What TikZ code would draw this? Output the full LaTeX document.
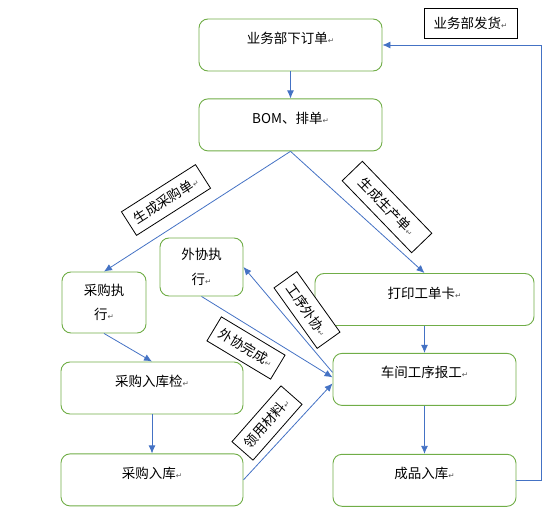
\documentclass[tikz,border=0pt]{standalone}
\usepackage{fontspec}
\setmainfont{Noto Sans CJK SC}
\newfontfamily\markfont{DejaVu Sans}
\usepackage{tikz}
\usetikzlibrary{arrows.meta, positioning}
\definecolor{boxgreen}{HTML}{70AD47}
\definecolor{flowblue}{HTML}{4472C4}
\newcommand{\retmark}{{\markfont\color{gray!70!black}\fontsize{7.5}{7.5}\selectfont ↵}}

\begin{document}
\begin{tikzpicture}[x=1pt, y=-1pt,
    font=\fontsize{13.5pt}{24.5pt}\selectfont,
    stepbox/.style={draw=boxgreen, line width=0.9pt, rounded corners=9pt,
        minimum width=183pt, minimum height=52pt,
        text height=11pt, text depth=14pt},
    twoline/.style={draw=boxgreen, line width=0.9pt, rounded corners=9pt,
        minimum width=84pt, minimum height=61pt, align=center, inner sep=0pt},
    tagbox/.style={draw=black, line width=0.8pt, fill=white,
        minimum height=28pt, inner xsep=7pt, inner ysep=0pt},
    flow/.style={draw=flowblue, line width=0.8pt,
        -{Latex[length=8pt, width=7pt]}}]
    \useasboundingbox (0,0) rectangle (557,516);
    % Add the steps
        \node[stepbox] (order) at (290.5,45) {业务部下订单\retmark};
        \node[stepbox,
            below=27pt of order
            ] (bom) {BOM、排单\retmark};
        \node[stepbox,
            minimum width=219pt
            ] (print) at (424.5,299.5) {打印工单卡\retmark};
        \node[stepbox,
            below=27pt of print
            ] (shop) {车间工序报工\retmark};
        \node[stepbox,
            below=48pt of shop
            ] (store) {成品入库\retmark};
        \node[stepbox,
            minimum width=182pt
            ] (check) at (152,388) {采购入库检\retmark};
        \node[stepbox,
            minimum width=182pt,
            below=39pt of check
            ] (buyin) {采购入库\retmark};
        \node[twoline] (buy) at (104,302.5) {采购执\\行\retmark};
        \node[twoline,
            minimum width=83pt,
            minimum height=58pt
            ] (outs) at (201.5,267) {外协执\\行\retmark};
        \node[draw=black, line width=0.8pt,
            minimum width=93pt,
            minimum height=30pt
            ] (ship) at (470.5,23) {业务部发货\retmark};

    % Add the labels
        \node[tagbox, rotate=32.5] (tbuy) at (166,200) {生成采购单\retmark};
        \node[tagbox, rotate=-46, minimum width=100pt] (tmake) at (387,207) {生成生产单\retmark};
        \node[tagbox, rotate=-54.5] (tout) at (307,310) {工序外协\retmark};
        \node[tagbox, rotate=-31] (tdone) at (246,348) {外协完成\retmark};
        \node[tagbox, rotate=48.7] (tmat) at (267,423) {领用材料\retmark};

       \path[every edge/.style={flow}]
            (order) edge (bom)
            (bom.south) edge (buy.north)
            (bom.south) edge (print.north)
            (print) edge (shop)
            (shop) edge (store)
            (buy.south) edge (check.north)
            (check) edge (buyin)
            (outs.south) edge ([yshift=2pt]shop.west)
            ([yshift=7pt]shop.west) edge (outs.east)
            (buyin.east) edge ([yshift=-4pt]shop.west)
            ;
       \draw[flow] (store.east) -- ++(25pt,0) |- (order.east);
\end{tikzpicture}
\end{document}
